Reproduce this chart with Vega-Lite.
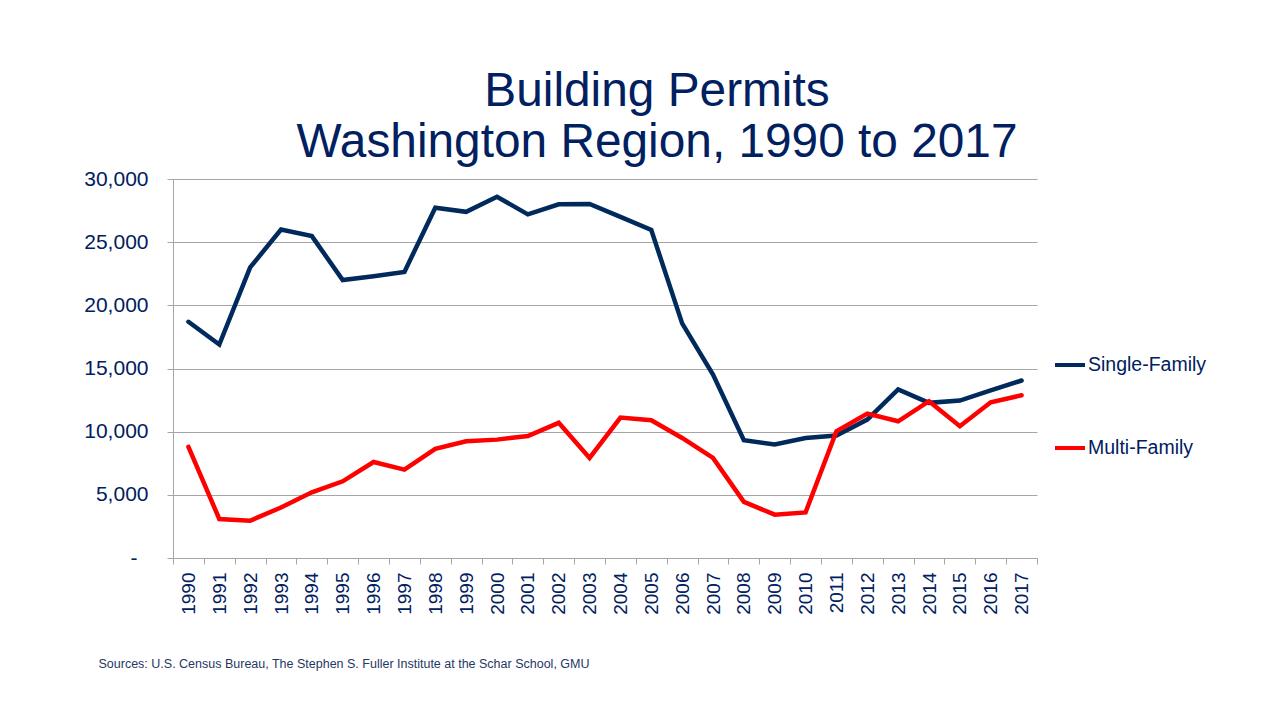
{
  "$schema": "https://vega.github.io/schema/vega-lite/v6.json",
  "width": 864,
  "height": 379,
  "autosize": {"type": "none"},
  "padding": {"left": 173, "top": 179, "right": 248, "bottom": 163},
  "background": "white",
  "config": {
    "font": "Liberation Sans",
    "view": {"stroke": null}
  },
  "title": {
    "text": ["Building Permits", "Washington Region, 1990 to 2017"],
    "font": "Liberation Sans",
    "fontSize": 47.8,
    "fontWeight": "normal",
    "color": "#002060",
    "anchor": "middle",
    "frame": "group",
    "dx": 52,
    "lineHeight": 51,
    "baseline": "bottom",
    "offset": -47
  },
  "data": {
    "values": [
      {"year": "1990", "series": "Single-Family", "permits": 18700},
      {"year": "1991", "series": "Single-Family", "permits": 16900},
      {"year": "1992", "series": "Single-Family", "permits": 23000},
      {"year": "1993", "series": "Single-Family", "permits": 26000},
      {"year": "1994", "series": "Single-Family", "permits": 25480},
      {"year": "1995", "series": "Single-Family", "permits": 22000},
      {"year": "1996", "series": "Single-Family", "permits": 22300},
      {"year": "1997", "series": "Single-Family", "permits": 22650},
      {"year": "1998", "series": "Single-Family", "permits": 27730},
      {"year": "1999", "series": "Single-Family", "permits": 27400},
      {"year": "2000", "series": "Single-Family", "permits": 28600},
      {"year": "2001", "series": "Single-Family", "permits": 27200},
      {"year": "2002", "series": "Single-Family", "permits": 28000},
      {"year": "2003", "series": "Single-Family", "permits": 28020},
      {"year": "2004", "series": "Single-Family", "permits": 27000},
      {"year": "2005", "series": "Single-Family", "permits": 25960},
      {"year": "2006", "series": "Single-Family", "permits": 18570},
      {"year": "2007", "series": "Single-Family", "permits": 14520},
      {"year": "2008", "series": "Single-Family", "permits": 9320},
      {"year": "2009", "series": "Single-Family", "permits": 8980},
      {"year": "2010", "series": "Single-Family", "permits": 9500},
      {"year": "2011", "series": "Single-Family", "permits": 9690},
      {"year": "2012", "series": "Single-Family", "permits": 10960},
      {"year": "2013", "series": "Single-Family", "permits": 13340},
      {"year": "2014", "series": "Single-Family", "permits": 12280},
      {"year": "2015", "series": "Single-Family", "permits": 12460},
      {"year": "2016", "series": "Single-Family", "permits": 13260},
      {"year": "2017", "series": "Single-Family", "permits": 14050},
      {"year": "1990", "series": "Multi-Family", "permits": 8800},
      {"year": "1991", "series": "Multi-Family", "permits": 3090},
      {"year": "1992", "series": "Multi-Family", "permits": 2950},
      {"year": "1993", "series": "Multi-Family", "permits": 4000},
      {"year": "1994", "series": "Multi-Family", "permits": 5200},
      {"year": "1995", "series": "Multi-Family", "permits": 6070},
      {"year": "1996", "series": "Multi-Family", "permits": 7600},
      {"year": "1997", "series": "Multi-Family", "permits": 7000},
      {"year": "1998", "series": "Multi-Family", "permits": 8640},
      {"year": "1999", "series": "Multi-Family", "permits": 9240},
      {"year": "2000", "series": "Multi-Family", "permits": 9370},
      {"year": "2001", "series": "Multi-Family", "permits": 9660},
      {"year": "2002", "series": "Multi-Family", "permits": 10700},
      {"year": "2003", "series": "Multi-Family", "permits": 7920},
      {"year": "2004", "series": "Multi-Family", "permits": 11120},
      {"year": "2005", "series": "Multi-Family", "permits": 10900},
      {"year": "2006", "series": "Multi-Family", "permits": 9500},
      {"year": "2007", "series": "Multi-Family", "permits": 7920},
      {"year": "2008", "series": "Multi-Family", "permits": 4440},
      {"year": "2009", "series": "Multi-Family", "permits": 3430},
      {"year": "2010", "series": "Multi-Family", "permits": 3610},
      {"year": "2011", "series": "Multi-Family", "permits": 10030},
      {"year": "2012", "series": "Multi-Family", "permits": 11430},
      {"year": "2013", "series": "Multi-Family", "permits": 10820},
      {"year": "2014", "series": "Multi-Family", "permits": 12410},
      {"year": "2015", "series": "Multi-Family", "permits": 10430},
      {"year": "2016", "series": "Multi-Family", "permits": 12330},
      {"year": "2017", "series": "Multi-Family", "permits": 12880}
    ]
  },
  "mark": {"type": "line", "strokeWidth": 4.5, "strokeJoin": "miter", "strokeCap": "round"},
  "encoding": {
    "x": {
      "field": "year",
      "type": "ordinal",
      "scale": {"paddingInner": 0, "paddingOuter": 0},
      "axis": {
        "title": "Sources: U.S. Census Bureau, The Stephen S. Fuller Institute at the Schar School, GMU",
        "titleFont": "Liberation Sans",
        "titleFontSize": 12.5,
        "titleFontWeight": "normal",
        "titleColor": "#1F3864",
        "titleAnchor": "start",
        "titleAlign": "left",
        "titleBaseline": "alphabetic",
        "titleX": -75,
        "titleY": 109,
        "labelAngle": -90,
        "labelAlign": "right",
        "labelBaseline": "middle",
        "labelFontSize": 19,
        "labelColor": "#002060",
        "labelPadding": 8,
        "tickBand": "extent",
        "tickSize": 6,
        "tickColor": "#A6A6A6",
        "domainColor": "#A6A6A6",
        "grid": false
      }
    },
    "y": {
      "field": "permits",
      "type": "quantitative",
      "scale": {"domain": [0, 30000], "nice": false},
      "axis": {
        "title": null,
        "values": [0, 5000, 10000, 15000, 20000, 25000, 30000],
        "labelExpr": "datum.value == 0 ? '-' : format(datum.value, ',')",
        "labelFontSize": 21,
        "labelColor": "#002060",
        "labelPadding": {"condition": {"test": "datum.value == 0", "value": 30}, "value": 19},
        "tickSize": 6,
        "tickColor": "#A6A6A6",
        "domainColor": "#A6A6A6",
        "gridColor": "#A6A6A6",
        "gridWidth": 1
      }
    },
    "color": {
      "field": "series",
      "type": "nominal",
      "scale": {"domain": ["Single-Family", "Multi-Family"], "range": ["#002A5C", "#FF0000"]},
      "legend": {
        "title": null,
        "orient": "none",
        "legendX": 880,
        "legendY": 169,
        "symbolType": "stroke",
        "symbolSize": 900,
        "symbolStrokeWidth": 4,
        "labelFontSize": 19.5,
        "labelColor": "#002060",
        "labelOffset": 1,
        "rowPadding": 56
      }
    }
  }
}
